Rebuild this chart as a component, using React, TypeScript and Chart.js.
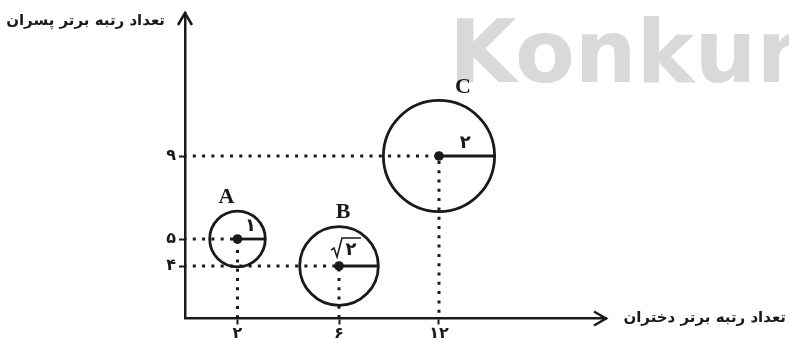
import React, { useEffect, useRef } from 'react';
import { Chart, LinearScale, registerables } from 'chart.js';

// ---- data ----
const POINT_NAMES = ['A', 'B', 'C'];
const X_VALUES = [2, 6, 12]; // تعداد رتبه برتر دختران
const Y_VALUES = [5, 4, 9]; // تعداد رتبه برتر پسران
const RADIUS_VALUES = [1, Math.SQRT2, 2];
const RADIUS_LABELS = ['۱', '√۲', '۲'];
const X_TICKS = [2, 6, 12];
const X_TICK_LABELS = ['۲', '۶', '۱۲'];
const Y_TICKS = [4, 5, 9];
const Y_TICK_LABELS = ['۴', '۵', '۹'];
const X_TITLE = 'تعداد رتبه برتر دختران';
const Y_TITLE = 'تعداد رتبه برتر پسران';
const WATERMARK = 'Konkur';

// ---- layout / style ----
const INK = '#1a1a1a';
const RADIUS_PX_PER_UNIT = 27.8;
const NAME_OFFSETS: [number, number][] = [[-11, -42], [4, -54], [24, -69]];
// schematic (non-uniform) axis mapping: [value, fraction of axis length]
const SCALE_STOPS: Record<string, [number, number][]> = {
  x: [[0, 0], [2, 0.1247], [6, 0.3658], [12, 0.6033], [22, 1]],
  y: [[0, 0], [4, 0.1718], [5, 0.2602], [9, 0.5319], [15.89, 1]],
};

function mapValue(stops: [number, number][], v: number) {
  const n = stops.length;
  for (let i = 0; i < n - 1; i++) {
    const [v0, d0] = stops[i];
    const [v1, d1] = stops[i + 1];
    if (v <= v1 || i === n - 2) return d0 + ((v - v0) / (v1 - v0)) * (d1 - d0);
  }
  return 0;
}
function unmapDecimal(stops: [number, number][], d: number) {
  const n = stops.length;
  for (let i = 0; i < n - 1; i++) {
    const [v0, d0] = stops[i];
    const [v1, d1] = stops[i + 1];
    if (d <= d1 || i === n - 2) return v0 + ((d - d0) / (d1 - d0)) * (v1 - v0);
  }
  return 0;
}

class SchematicScale extends LinearScale {
  static id = 'schematic';
  static defaults = LinearScale.defaults;
  getPixelForValue(value: number) {
    return this.getPixelForDecimal(mapValue(SCALE_STOPS[(this as any).id], value));
  }
  getValueForPixel(pixel: number) {
    return unmapDecimal(SCALE_STOPS[(this as any).id], this.getDecimalForPixel(pixel));
  }
}

Chart.register(...registerables, SchematicScale as any);

const decorPlugin = {
  id: 'decor',
  beforeDraw(chart: any) {
    const ctx = chart.ctx;
    ctx.save();
    ctx.fillStyle = '#d9d9d9';
    ctx.font = 'bold 87px "DejaVu Sans"';
    ctx.textAlign = 'left';
    ctx.textBaseline = 'alphabetic';
    ctx.fillText(WATERMARK, 449, 82);
    ctx.restore();
  },
  afterDatasetsDraw(chart: any) {
    const ctx = chart.ctx;
    const meta = chart.getDatasetMeta(1);
    ctx.save();
    meta.data.forEach((el: any, i: number) => {
      const x = el.x;
      const y = el.y;
      const r = el.options.radius;
      ctx.strokeStyle = INK;
      ctx.fillStyle = INK;
      ctx.lineWidth = 2.8;
      ctx.beginPath();
      ctx.moveTo(x, y);
      ctx.lineTo(x + r, y);
      ctx.stroke();
      // point name
      ctx.font = 'bold 22px "Liberation Serif"';
      ctx.textAlign = 'center';
      ctx.textBaseline = 'middle';
      ctx.fillText(POINT_NAMES[i], x + NAME_OFFSETS[i][0], y + NAME_OFFSETS[i][1]);
      // radius label
      const lbl = RADIUS_LABELS[i];
      ctx.font = 'bold 18px "DejaVu Sans"';
      if (lbl.startsWith('√')) {
        const digit = lbl.slice(1);
        ctx.fillText(digit, x + 12, y - 16);
        ctx.lineWidth = 1.5;
        ctx.beginPath();
        ctx.moveTo(x - 8, y - 16);
        ctx.lineTo(x - 5, y - 18);
        ctx.lineTo(x - 2, y - 9);
        ctx.lineTo(x + 3, y - 28);
        ctx.lineTo(x + 22, y - 28);
        ctx.stroke();
      } else {
        ctx.fillText(lbl, x + r * 0.47, y - 13);
      }
    });
    ctx.restore();
  },
  afterDraw(chart: any) {
    const ctx = chart.ctx;
    const { left, right, top, bottom } = chart.chartArea;
    ctx.save();
    ctx.strokeStyle = INK;
    ctx.lineWidth = 2.5;
    ctx.lineJoin = 'miter';
    ctx.beginPath();
    ctx.moveTo(right - 12, bottom - 7);
    ctx.lineTo(right, bottom);
    ctx.lineTo(right - 12, bottom + 7);
    ctx.stroke();
    ctx.beginPath();
    ctx.moveTo(left - 7, top + 12);
    ctx.lineTo(left, top);
    ctx.lineTo(left + 7, top + 12);
    ctx.stroke();
    ctx.fillStyle = INK;
    ctx.font = 'bold 15px "DejaVu Sans"';
    ctx.direction = 'rtl';
    ctx.textAlign = 'right';
    ctx.textBaseline = 'middle';
    ctx.fillText(Y_TITLE, 165, 21);
    ctx.fillText(X_TITLE, 786, 318);
    ctx.restore();
  },
};

export default function App() {
  const ref = useRef<HTMLCanvasElement>(null);
  useEffect(() => {
    if (!ref.current) return;
    const points = X_VALUES.map((x, i) => ({ x, y: Y_VALUES[i] }));
    const guideSets = points.map((p) => ({
      type: 'scatter' as const,
      data: [{ x: 0, y: p.y }, { x: p.x, y: p.y }, { x: p.x, y: 0 }],
      showLine: true,
      borderColor: INK,
      borderWidth: 3,
      borderDash: [3, 6.3],
      borderDashOffset: 1.5,
      pointRadius: 0,
      order: 2,
      clip: false as any,
    }));
    const chart = new Chart(ref.current, {
      type: 'bubble',
      data: {
        datasets: [
          {
            type: 'scatter' as const,
            data: points,
            pointRadius: 4.8,
            backgroundColor: INK,
            borderWidth: 0,
            order: 0,
          } as any,
          {
            type: 'bubble' as const,
            data: points.map((p, i) => ({ ...p, r: RADIUS_VALUES[i] * RADIUS_PX_PER_UNIT })),
            backgroundColor: 'rgba(0,0,0,0)',
            borderColor: INK,
            borderWidth: 2.8,
            order: 1,
            clip: false as any,
          } as any,
          ...(guideSets as any[]),
        ],
      },
      options: {
        animation: false,
        responsive: false,
        events: [],
        layout: { autoPadding: false, padding: { left: 0, right: 183, top: 13, bottom: 0 } },
        plugins: { legend: { display: false }, tooltip: { enabled: false } },
        scales: {
          x: {
            type: 'schematic' as any,
            min: 0,
            max: 22,
            afterFit: (s: any) => { s.height = 21.5; },
            afterBuildTicks: (s: any) => { s.ticks = X_TICKS.map((v) => ({ value: v })); },
            grid: { drawOnChartArea: false, drawTicks: true, tickLength: 6, tickWidth: 2, tickColor: INK, color: INK },
            border: { display: true, color: INK, width: 2.5 },
            ticks: {
              autoSkip: false,
              maxRotation: 0,
              padding: 0,
              color: INK,
              font: { family: 'DejaVu Sans', size: 16, weight: 'bold' },
              callback: (_v: any, i: number) => X_TICK_LABELS[i],
            },
          },
          y: {
            type: 'schematic' as any,
            min: 0,
            max: 15.89,
            afterFit: (s: any) => { s.width = 185; },
            afterBuildTicks: (s: any) => { s.ticks = Y_TICKS.map((v) => ({ value: v })); },
            grid: { drawOnChartArea: false, drawTicks: true, tickLength: 6, tickWidth: 2, tickColor: INK, color: INK },
            border: { display: true, color: INK, width: 2.5 },
            ticks: {
              autoSkip: false,
              padding: 3,
              color: INK,
              font: { family: 'DejaVu Sans', size: 16, weight: 'bold' },
              callback: (_v: any, i: number) => Y_TICK_LABELS[i],
            },
          },
        },
      } as any,
      plugins: [decorPlugin],
    });
    return () => chart.destroy();
  }, []);
  return (
    <div style={{ position: 'fixed', left: 0, top: 0, width: 789, height: 340, background: '#fff' }}>
      <canvas ref={ref} width={789} height={340} style={{ display: 'block' }} />
    </div>
  );
}
